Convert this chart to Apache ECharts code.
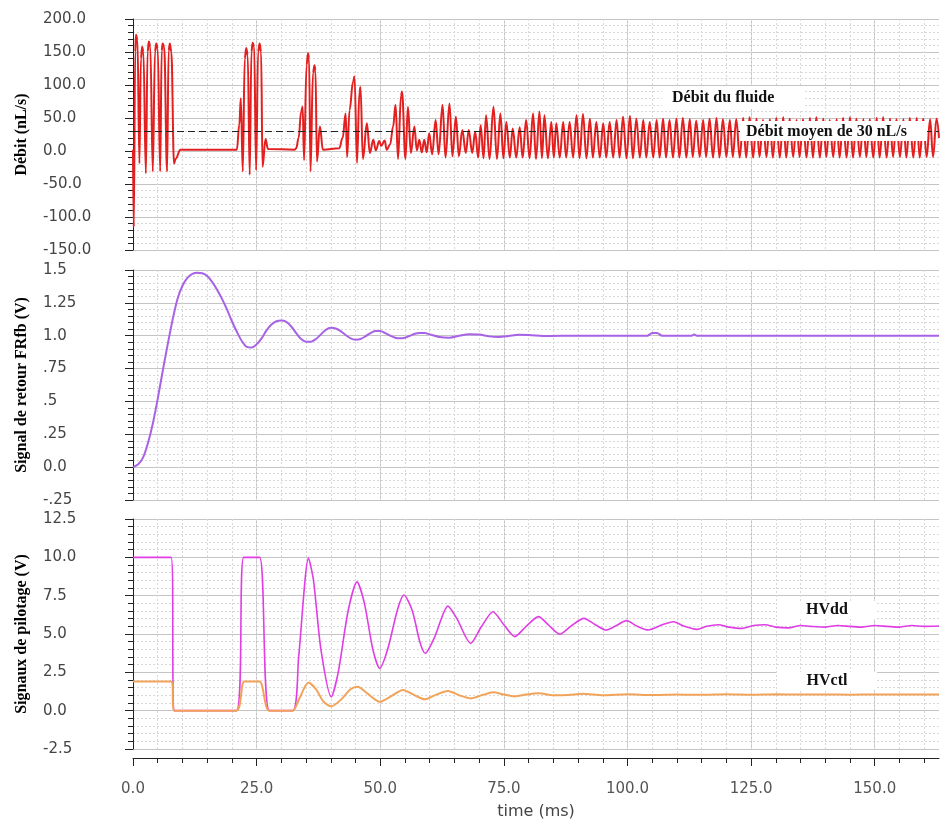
<!DOCTYPE html>
<html>
<head>
<meta charset="utf-8">
<script src="https://cdn.jsdelivr.net/npm/echarts@6/dist/echarts.min.js"></script>
<style>
  html, body { margin: 0; padding: 0; background: #fff; }
  #main { width: 948px; height: 823px; }
</style>
</head>
<body>
<div id="main"></div>
<script>
// time axis ticks (ms)
var timeTicks = [0, 25, 50, 75, 100, 125, 150];
var timeMinorTicks = [0, 5, 10, 15, 20, 25, 30, 35, 40, 45, 50, 55, 60, 65, 70, 75, 80,
  85, 90, 95, 100, 105, 110, 115, 120, 125, 130, 135, 140, 145, 150, 155, 160];

// panel 2 tick labels
var fbTicks = [-0.25, 0, 0.25, 0.5, 0.75, 1, 1.25, 1.5];
var fbTickLabels = ['-.25', '0.0', '.25', '.5', '.75', '1.0', '1.25', '1.5'];

var meanFlow = 30;

// Débit du fluide (nL/s) : [t, value]
var debit = [
  [0, 2], [0.15, -115], [0.45, 150], [0.6, 176], [0.9, 168], [1.3, -19], [1.6, 140], [1.85, 158],
  [2.1, 150], [2.6, -34], [2.95, 150], [3.2, 166], [3.5, 158], [4.0, -31], [4.45, 150], [4.7, 163],
  [5.0, 155], [5.5, -31], [5.8, 152], [6.0, 163], [6.3, 158], [6.9, -31], [7.2, 152], [7.45, 163],
  [7.75, 150], [8.3, -19], [8.6, -12],
  [9.6, 2], [21.0, 2], [21.5, 40], [21.8, 80], [22.2, -31], [22.6, 140], [22.9, 156], [23.2, 145],
  [23.6, -36], [23.95, 150], [24.2, 164], [24.5, 158], [24.9, -29], [25.3, 150], [25.6, 163], [25.9, 150],
  [26.2, -24], [26.8, 18], [27.3, 3], [32.7, 2], [33.0, 4], [33.5, 20],
  [34.0, 60], [34.3, 67], [34.6, -14], [35.1, 130], [35.4, 148], [35.6, 140], [35.9, -31], [36.4, 118],
  [36.7, 130], [36.9, 122], [37.2, -16], [37.8, 37],
  [38.4, 2], [41.7, 4], [42.4, 20], [43.0, 57], [43.3, -9], [43.8, 62], [44.5, 105], [44.8, 113], [45.3, -18],
  [45.8, 90], [46.0, 97], [46.5, -12], [47.3, 42], [47.9, -3], [48.6, 17], [49.1, 1], [49.8, 15], [50.2, 8],
  [50.9, 16], [51.3, 2], [52.0, 10], [52.6, 37], [53.1, 70], [53.6, -12], [54.2, 84], [54.4, 90], [55.1, -12],
  [55.6, 67], [56.2, -3], [56.9, 37], [57.4, 1], [57.9, 17], [58.4, -2], [58.9, 17], [59.4, -2],
  [59.9, 27], [60.5, -5], [61.2, 47], [61.8, -5], [62.6, 70], [63.2, -10], [64.0, 72], [64.6, -8],
  [65.3, 52], [65.9, -8], [66.6, 32], [67.3, -3], [67.9, 32], [68.6, -3], [69.2, 29], [69.8, -10],
  [70.3, 39], [70.9, -11], [71.4, 54], [72.1, -12], [72.9, 67], [73.6, -12], [74.3, 57], [74.9, -11],
  [75.5, 44], [76.2, -10], [76.8, 34], [77.5, -10], [78.2, 36], [78.8, -10], [79.5, 47], [80.2, -11],
  [80.9, 57], [81.5, -12], [82.2, 60], [82.7, -11], [83.2, 54], [83.9, -11], [84.6, 44], [85.1, -10],
  [85.6, 42], [86.3, -10], [87.0, 44], [87.6, -10], [88.3, 44], [89.0, -10], [89.7, 54], [90.3, -11],
  [91.0, 56], [91.7, -11], [92.4, 49], [93.0, -10], [93.7, 44], [94.4, -10], [95.1, 42], [95.7, -10],
  [96.4, 44], [97.1, -10], [97.8, 47], [98.4, -10], [99.1, 52], [99.8, -11], [100.5, 53], [101.1, -11],
  [101.8, 49], [102.5, -10], [103.2, 47], [103.8, -10], [104.5, 44], [105.2, -10], [105.9, 47], [106.5, -10],
  [107.2, 49], [107.8, -10], [108.5, 47], [109.2, -10], [109.9, 49], [110.5, -10], [111.2, 50], [111.9, -10],
  [112.6, 48], [113.2, -9], [113.9, 46], [114.6, -9], [115.3, 47], [115.9, -9], [116.6, 49], [117.3, -10],
  [118.0, 50], [118.6, -10], [119.3, 48], [120.0, -9], [120.7, 47], [121.3, -9], [122.0, 48], [122.7, -10],
  [123.4, 50], [124.0, -10], [124.7, 51], [125.4, -10], [126.1, 49], [126.7, -9], [127.4, 47], [128.1, -9],
  [128.8, 48], [129.4, -10], [130.1, 50], [130.8, -10], [131.5, 51], [132.1, -10], [132.8, 49], [133.5, -9],
  [134.2, 47], [134.8, -9], [135.5, 48], [136.2, -10], [136.9, 50], [137.5, -10], [138.2, 51], [138.9, -10],
  [139.6, 49], [140.2, -9], [140.9, 47], [141.6, -9], [142.3, 48], [142.9, -10], [143.6, 50], [144.3, -10],
  [145.0, 51], [145.6, -10], [146.3, 49], [147.0, -9], [147.7, 48], [148.3, -9], [149.0, 48], [149.7, -10],
  [150.4, 50], [151.0, -10], [151.7, 51], [152.4, -10], [153.1, 49], [153.7, -9], [154.4, 48], [155.1, -9],
  [155.8, 48], [156.4, -10], [157.1, 50], [157.8, -10], [158.5, 50], [159.1, -10], [159.8, 49], [160.5, -9],
  [161.2, 48], [161.8, -9], [162.5, 49], [163, 20]
];

// Signal de retour FRfb (V)
var retour = [
  [0, 0], [1, 0.02], [2, 0.07], [3, 0.18], [4, 0.33], [5, 0.52], [6, 0.73], [7, 0.93], [8, 1.12],
  [9, 1.28], [10, 1.38], [11, 1.44], [12, 1.47], [13, 1.48], [14, 1.475], [15, 1.455], [16, 1.41],
  [17, 1.35], [18, 1.28], [19, 1.2], [20, 1.11], [21, 1.03], [22, 0.96], [23, 0.915], [24, 0.91],
  [25, 0.935], [26, 0.98], [27, 1.04], [28, 1.085], [29, 1.11], [30, 1.115], [31, 1.105], [32, 1.07],
  [33, 1.02], [34, 0.975], [35, 0.955], [36, 0.955], [37, 0.975], [38, 1.01], [39, 1.045], [40, 1.06],
  [41, 1.055], [42, 1.035], [43, 1.005], [44, 0.98], [45, 0.97], [46, 0.975], [47, 0.995], [48, 1.02],
  [49, 1.035], [50, 1.035], [51, 1.02], [52, 1.0], [53, 0.985], [54, 0.98], [55, 0.985], [56, 1.0],
  [57, 1.015], [58, 1.02], [59, 1.02], [60, 1.01], [62, 0.99], [64, 0.985], [66, 1.0], [68, 1.012],
  [70, 1.01], [72, 0.995], [74, 0.99], [76, 0.998], [78, 1.007], [80, 1.005], [84, 0.998], [90, 1.0],
  [104, 1.0], [105, 1.02], [106, 1.02], [107, 1.0], [113, 1.0], [113.5, 1.01], [114, 1.0], [163, 1.0]
];

// Signaux de pilotage (V)
var hvdd = [
  [0, 10], [7.7, 10], [8.4, 0], [20.9, 0], [22.4, 10], [25.6, 10], [27.6, 0], [32.3, 0], [33.5, 3.5],
  [35.5, 9.95], [36.5, 8.5], [38, 4], [40.1, 0.9], [41.5, 2.5], [43.5, 6.5], [45.3, 8.4], [46.8, 7],
  [48.5, 4], [49.9, 2.76], [51.5, 4], [53.5, 6.6], [54.8, 7.54], [56.5, 6.5], [58, 4.5], [59.1, 3.74],
  [61, 4.8], [63.7, 6.82], [65.5, 6], [68.3, 4.39], [70.5, 5.5], [72.8, 6.45], [75, 5.6], [77.2, 4.83],
  [79.5, 5.5], [82, 6.13], [84, 5.6], [86.3, 4.99], [88.5, 5.5], [91.2, 6.02], [93.5, 5.6], [95.7, 5.26],
  [97.5, 5.5], [99.8, 5.87], [102, 5.5], [104.2, 5.26], [107, 5.6], [109.3, 5.8], [111.5, 5.5], [114, 5.3],
  [116, 5.5], [118.4, 5.6], [120.5, 5.45], [123.1, 5.37], [125.5, 5.55], [127.8, 5.6], [130, 5.45],
  [132.5, 5.4], [135, 5.55], [137, 5.5], [140, 5.45], [142.5, 5.55], [145, 5.5], [147.5, 5.45],
  [150, 5.55], [152.5, 5.5], [155, 5.45], [157.5, 5.55], [160, 5.5], [163, 5.52]
];
var hvctl = [
  [0, 1.9], [7.7, 1.9], [8.4, 0], [20.9, 0], [22.5, 1.9], [25.6, 1.9], [27.5, 0], [32.3, 0], [33.5, 0.7],
  [35.5, 1.83], [37, 1.4], [38.5, 0.6], [40.1, 0.28], [42, 0.7], [44, 1.4], [45.4, 1.56], [47.5, 1.1],
  [49.9, 0.58], [52, 0.9], [54.6, 1.35], [57, 1.0], [59, 0.74], [61, 1.0], [63.7, 1.28], [66, 1.0],
  [68.3, 0.8], [70.5, 1.0], [72.8, 1.2], [75, 1.05], [77.2, 0.93], [79.5, 1.05], [82, 1.13], [85, 1.0],
  [88, 1.02], [91, 1.1], [95, 1.0], [100, 1.07], [105, 1.02], [110, 1.06], [115, 1.03], [120, 1.07],
  [125, 1.04], [130, 1.07], [135, 1.05], [140, 1.06], [145, 1.04], [150, 1.06], [155, 1.05], [163, 1.05]
];

var chart = echarts.init(document.getElementById('main'));

var labelFont = { fontFamily: 'DejaVu Sans', fontSize: 15, color: '#444' };
var nameFont = { fontFamily: 'Liberation Serif', fontWeight: 'bold', fontSize: 16, color: '#000' };

function timeAxes(grid, visible) {
  var major = {
    type: 'value', gridIndex: grid, min: 0, max: 163, position: 'bottom', offset: 9,
    axisLine: { show: visible, onZero: false, lineStyle: { color: '#222' } },
    axisTick: { show: visible, length: 8, customValues: timeTicks, lineStyle: { color: '#222' } },
    axisLabel: {
      show: visible, customValues: timeTicks, margin: 24,
      formatter: function (v) { return v.toFixed(1); },
      fontFamily: 'DejaVu Sans', fontSize: 15, color: '#555'
    },
    splitLine: { show: true, lineStyle: { color: '#c4c4c4', width: 1 } }
  };
  if (visible) {
    major.name = 'time (ms)';
    major.nameLocation = 'middle';
    major.nameGap = 46;
    major.nameTextStyle = { fontFamily: 'DejaVu Sans', fontSize: 16, color: '#444' };
  }
  var minor = {
    type: 'value', gridIndex: grid, min: 0, max: 163, position: 'bottom', offset: 9,
    axisLine: { show: false, onZero: false },
    axisTick: { show: visible, length: 5, customValues: timeMinorTicks, lineStyle: { color: '#222' } },
    axisLabel: { show: false },
    splitLine: { show: true, lineStyle: { color: '#d8d8d8', width: 1, type: [2, 2] } }
  };
  return [major, minor];
}

function valueAxis(grid, min, max, interval, name, fmt) {
  return {
    type: 'value', gridIndex: grid, min: min, max: max, interval: interval, offset: 13,
    name: name, nameLocation: 'middle', nameGap: 90, nameTextStyle: nameFont,
    axisLine: { show: true, lineStyle: { color: '#222' } },
    axisTick: { show: true, length: 8, lineStyle: { color: '#222' } },
    minorTick: { show: true, splitNumber: 5, length: 5, lineStyle: { color: '#222' } },
    axisLabel: Object.assign({ align: 'left', margin: 77, formatter: fmt }, labelFont),
    splitLine: { show: true, lineStyle: { color: '#c4c4c4' } },
    minorSplitLine: { show: true, lineStyle: { color: '#d8d8d8', type: [2, 2] } }
  };
}

var option = {
  animation: false,
  backgroundColor: '#fff',
  grid: [
    { left: 133, top: 19, width: 806, height: 231 },
    { left: 133, top: 270, width: 806, height: 230 },
    { left: 133, top: 519, width: 806, height: 230 }
  ],
  xAxis: [].concat(timeAxes(0, false), timeAxes(1, false), timeAxes(2, true)),
  yAxis: [
    valueAxis(0, -150, 200, 50, 'Débit (nL/s)', function (v) { return v.toFixed(1); }),
    valueAxis(1, -0.25, 1.5, 0.25, 'Signal de retour FRfb (V)', function (v) {
      for (var i = 0; i < fbTicks.length; i++) {
        if (Math.abs(fbTicks[i] - v) < 1e-6) return fbTickLabels[i];
      }
      return '';
    }),
    valueAxis(2, -2.5, 12.5, 2.5, 'Signaux de pilotage (V)', function (v) { return v.toFixed(1); })
  ],
  series: [
    {
      name: 'Débit du fluide', type: 'line', xAxisIndex: 0, yAxisIndex: 0, data: debit,
      showSymbol: false, smooth: 0.4, smoothMonotone: 'x',
      lineStyle: { color: '#e31f1f', width: 2 },
      markLine: {
        silent: true, symbol: 'none', label: { show: false },
        lineStyle: { color: '#222', type: [7, 4], width: 1.2 },
        data: [{ yAxis: meanFlow }]
      }
    },
    {
      name: 'FRfb', type: 'line', xAxisIndex: 2, yAxisIndex: 1, data: retour,
      showSymbol: false, smooth: 0.3, lineStyle: { color: '#a862e6', width: 2 }
    },
    {
      name: 'HVdd', type: 'line', xAxisIndex: 4, yAxisIndex: 2, data: hvdd,
      showSymbol: false, smooth: 0.25, lineStyle: { color: '#e03ee4', width: 1.6 }
    },
    {
      name: 'HVctl', type: 'line', xAxisIndex: 4, yAxisIndex: 2, data: hvctl,
      showSymbol: false, smooth: 0.25, lineStyle: { color: '#f2a35a', width: 2 }
    }
  ],
  graphic: [
    { type: 'rect', z: 100, shape: { x: 662, y: 86, width: 143, height: 23 }, style: { fill: '#fff' } },
    { type: 'text', z: 101, style: { x: 672, y: 98, text: 'Débit du fluide', verticalAlign: 'middle',
      font: 'bold 16px "Liberation Serif"', fill: '#111' } },
    { type: 'rect', z: 100, shape: { x: 740, y: 121, width: 187, height: 20 }, style: { fill: '#fff' } },
    { type: 'text', z: 101, style: { x: 746, y: 132, text: 'Débit moyen de 30 nL/s', verticalAlign: 'middle',
      font: 'bold 16px "Liberation Serif"', fill: '#111' } },
    { type: 'rect', z: 100, shape: { x: 777, y: 601, width: 100, height: 18 }, style: { fill: '#fff' } },
    { type: 'text', z: 101, style: { x: 827, y: 610, text: 'HVdd', align: 'center', verticalAlign: 'middle',
      font: 'bold 16px "Liberation Serif"', fill: '#111' } },
    { type: 'rect', z: 100, shape: { x: 777, y: 672, width: 100, height: 18 }, style: { fill: '#fff' } },
    { type: 'text', z: 101, style: { x: 827, y: 681, text: 'HVctl', align: 'center', verticalAlign: 'middle',
      font: 'bold 16px "Liberation Serif"', fill: '#111' } }
  ]
};

chart.setOption(option);
</script>
</body>
</html>
